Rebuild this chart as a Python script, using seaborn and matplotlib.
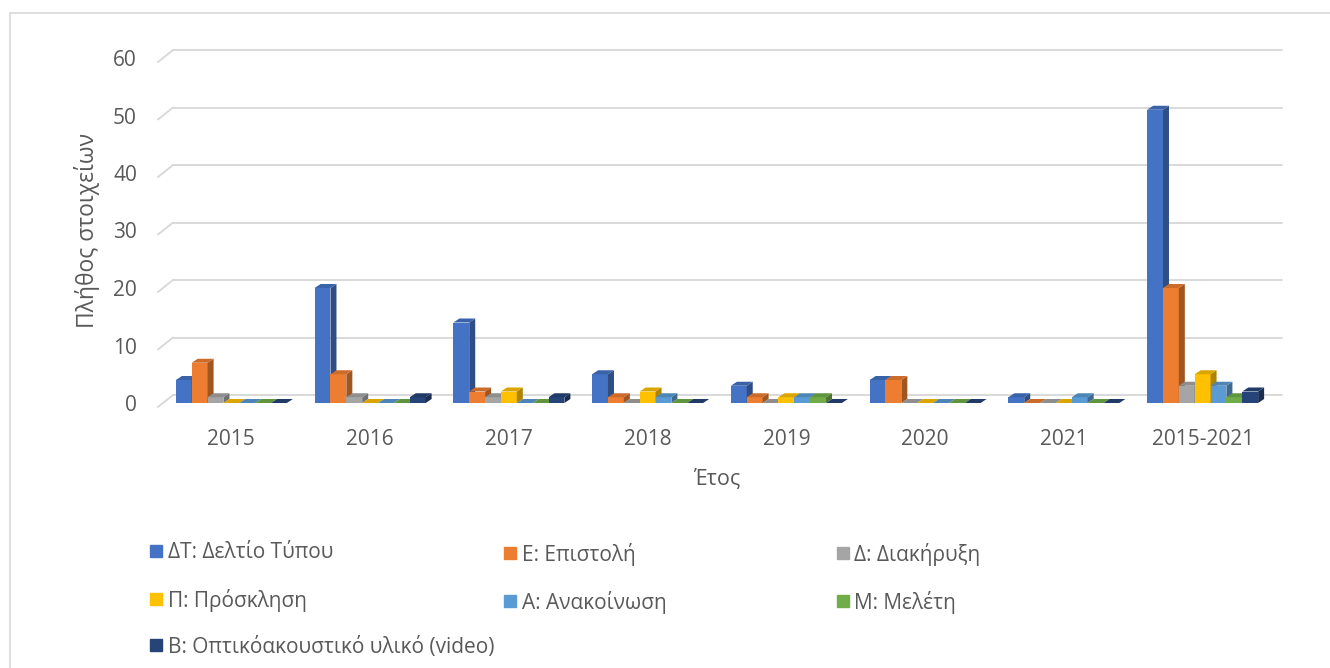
import numpy as np
import pandas as pd
import matplotlib.pyplot as plt
import seaborn as sns
from matplotlib.patches import Polygon
from matplotlib.lines import Line2D
from matplotlib.transforms import IdentityTransform
from matplotlib.colors import to_rgb

# --- data ---
years = ['2015', '2016', '2017', '2018', '2019', '2020', '2021', '2015-2021']
types = ['ΔΤ: Δελτίο Τύπου', 'Ε: Επιστολή', 'Δ: Διακήρυξη', 'Π: Πρόσκληση',
         'Α: Ανακοίνωση', 'Μ: Μελέτη', 'Β: Οπτικόακουστικό υλικό (video)']
press = [4, 20, 14, 5, 3, 4, 1, 51]
letter = [7, 5, 2, 1, 1, 4, 0, 20]
declaration = [1, 1, 1, 0, 0, 0, 0, 3]
invitation = [0, 0, 2, 2, 1, 0, 0, 5]
announcement = [0, 0, 0, 1, 1, 0, 1, 3]
study = [0, 0, 0, 0, 1, 0, 0, 1]
video = [0, 1, 1, 0, 0, 0, 0, 2]
yticks = [0, 10, 20, 30, 40, 50, 60]

colors = ['#4472C4', '#ED7D31', '#A5A5A5', '#FFC000', '#5B9BD5', '#70AD47', '#264478']
grid_col = '#D9D9D9'
text_col = '#595959'

rows = []
for t, vals in zip(types, [press, letter, declaration, invitation, announcement, study, video]):
    for y, v in zip(years, vals):
        rows.append({'Έτος': y, 'Πλήθος': v, 'Τύπος': t})
df = pd.DataFrame(rows)

sns.set_theme(style='white')
plt.rcParams['font.family'] = ['Open Sans', 'DejaVu Sans']

W, H = 1330, 668
fig = plt.figure(figsize=(W / 100, H / 100), dpi=100)
ax = fig.add_axes([162 / W, 1 - 403 / H, 1110 / W, 345 / H])
ax.set_facecolor('none')

sns.barplot(data=df, x='Έτος', y='Πλήθος', hue='Τύπος', order=years, hue_order=types,
            palette=colors, saturation=1, width=0.8, errorbar=None, legend=False, ax=ax)
ax.set_xlim(-0.5, len(years) - 0.5)
ax.set_ylim(0, 60)
for s in ax.spines.values():
    s.set_visible(False)
ax.set_yticks(yticks)
ax.tick_params(axis='both', length=0, labelsize=15, labelcolor=text_col)
ax.tick_params(axis='y', pad=18)
ax.tick_params(axis='x', pad=18.5)
ax.set_xlabel('Έτος', fontsize=15.5, color=text_col)
ax.set_ylabel('Πλήθος στοιχείων', fontsize=16.5, color=text_col)
ax.xaxis.set_label_coords(0.5, -0.19)
ax.yaxis.set_label_coords(-0.056, 0.5)

# back wall gridlines with the little perspective stubs on the left
back = (11, 8)
front = (-4, -4)
for v in yticks:
    xl, yv = ax.transData.transform((-0.5, v))
    xr, _ = ax.transData.transform((len(years) - 0.5, v))
    ax.add_line(Line2D([xl + back[0], xr + 10], [yv + back[1]] * 2, transform=IdentityTransform(),
                       color=grid_col, lw=1.4, zorder=1, clip_on=False))
    ax.add_line(Line2D([xl + front[0], xl + back[0]], [yv + front[1], yv + back[1]],
                       transform=IdentityTransform(), color=grid_col, lw=1.4, zorder=1, clip_on=False))

# fake 3D: side and top faces for every bar
dx, dy = 6, 4
bars = sorted(ax.patches, key=lambda p: p.get_x())
for rank, p in enumerate(bars):
    z = 3 + rank * 0.01
    c = np.array(to_rgb(p.get_facecolor()))
    p.set_edgecolor('none')
    p.set_zorder(z)
    x0, x1 = p.get_x(), p.get_x() + p.get_width()
    h = p.get_height()
    (px0, py0) = ax.transData.transform((x0, 0))
    (px1, pyh) = ax.transData.transform((x1, h))
    top = [(px0, pyh), (px1, pyh), (px1 + dx, pyh + dy), (px0 + dx, pyh + dy)]
    side = [(px1, py0), (px1, pyh), (px1 + dx, pyh + dy), (px1 + dx, py0 + dy)]
    ax.add_patch(Polygon(side, closed=True, transform=IdentityTransform(), facecolor=c * 0.68,
                         edgecolor='none', zorder=z, clip_on=False))
    ax.add_patch(Polygon(top, closed=True, transform=IdentityTransform(), facecolor=c * 0.86,
                         edgecolor='none', zorder=z, clip_on=False))

# legend laid out in three columns, row by row like the original
cols = [[0, 3, 6], [1, 4], [2, 5]]
col_x = [150, 504, 837]
for idx, cx in zip(cols, col_x):
    handles = [Line2D([], [], marker='s', linestyle='', markersize=9, color=colors[i]) for i in idx]
    fig.legend(handles, [types[i] for i in idx], loc='upper left',
               bbox_to_anchor=(cx / W, 1 - 542.5 / H), frameon=False, fontsize=15,
               handlelength=0.62, handletextpad=0.22, borderpad=0, borderaxespad=0,
               labelspacing=1.2, labelcolor=text_col)

# chart area border
fig.add_artist(Line2D([10 / W, 1], [1 - 13 / H] * 2, transform=fig.transFigure, color=grid_col, lw=1.2))
fig.add_artist(Line2D([10 / W] * 2, [0, 1 - 13 / H], transform=fig.transFigure, color=grid_col, lw=1.2))

fig.savefig('out.png', dpi=100)
